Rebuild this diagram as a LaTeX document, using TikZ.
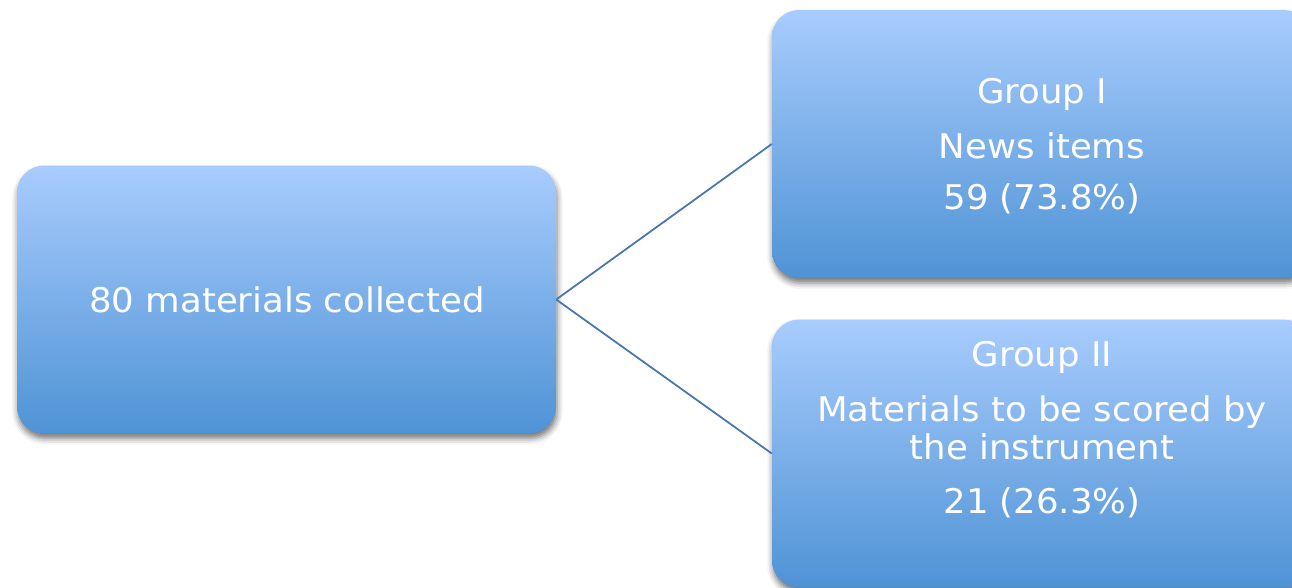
\documentclass[tikz,border=0pt]{standalone}
\usepackage{fontspec}
\setmainfont{DejaVu Sans}
\usetikzlibrary{shadows.blur}
\definecolor{boxtop}{HTML}{A8CCFD}
\definecolor{boxbot}{HTML}{4F93D5}
\definecolor{linkcol}{HTML}{4A78AE}
\newcommand\widetxt[1]{\scalebox{1.045}[1]{#1}}
\tikzset{
  box/.style={rectangle, rounded corners=27pt, minimum width=539pt, minimum height=268pt,
    inner sep=0pt, top color=boxtop, bottom color=boxbot, draw=none,
    blur shadow={shadow xshift=1pt, shadow yshift=-5pt, shadow blur radius=6pt, shadow opacity=55}},
  label/.style={anchor=base, text=white, inner sep=0pt, font=\fontsize{34}{38}\selectfont},
  link/.style={draw=linkcol, line width=1.8pt}
}
\begin{document}
\begin{tikzpicture}[x=1pt, y=-1pt]
\useasboundingbox (0,0) rectangle (1292,587);
\clip (0,0) rectangle (1292,587);
\node[box] (src) at (286.5,299.5) {};
\node[box] (g1) at (1041.5,144) {};
\node[box] (g2) at (1041.5,453.5) {};
\draw[link] (src.east) -- (g1.west);
\draw[link] (src.east) -- (g2.west);
\node[label] (t0) at (287,312) {\widetxt{80 materials collected}};
\node[label] (t1a) at (1042,103) {\widetxt{Group I}};
\node[label] (t1b) at (1042,158) {\widetxt{News items}};
\node[label] (t1c) at (1042,209) {\widetxt{59 (73.8\%)}};
\node[label] (t2a) at (1042,366) {\widetxt{Group II}};
\node[label] (t2b) at (1042,421) {\widetxt{Materials to be scored by}};
\node[label] (t2c) at (1042,459) {\widetxt{the instrument}};
\node[label] (t2d) at (1042,513) {\widetxt{21 (26.3\%)}};
\end{tikzpicture}
\end{document}
